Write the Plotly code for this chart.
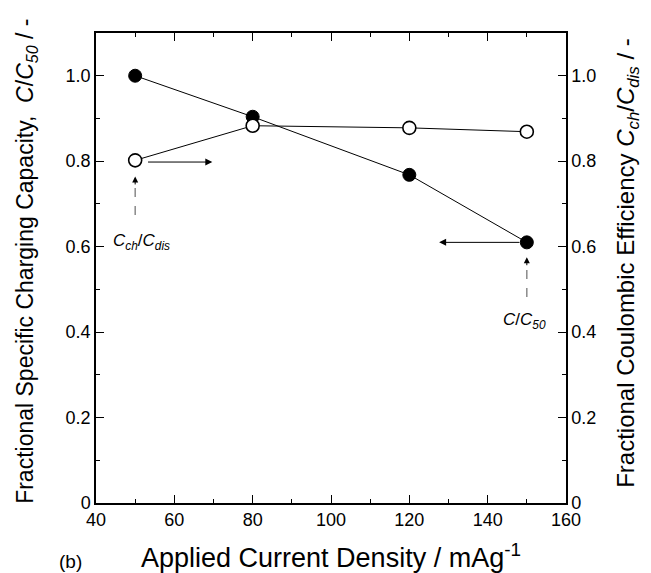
import plotly.graph_objects as go

current_density = [50, 80, 120, 150]
frac_capacity = [1.0, 0.904, 0.768, 0.610]
coulombic_eff = [0.802, 0.883, 0.878, 0.869]

x_ticks = [40, 60, 80, 100, 120, 140, 160]
y_ticks = [0, 0.2, 0.4, 0.6, 0.8, 1.0]
y_ticktext = ["0", "0.2", "0.4", "0.6", "0.8", "1.0"]

FONT = "Liberation Sans, Arial, Helvetica, sans-serif"

fig = go.Figure()

fig.add_trace(go.Scatter(
    x=current_density, y=frac_capacity, mode="lines+markers",
    line=dict(color="black", width=1),
    marker=dict(symbol="circle", size=13, color="black", line=dict(color="black", width=1)),
    yaxis="y", showlegend=False))

fig.add_trace(go.Scatter(
    x=current_density, y=coulombic_eff, mode="lines+markers",
    line=dict(color="black", width=1),
    marker=dict(symbol="circle", size=13, color="white", line=dict(color="black", width=1.6)),
    yaxis="y2", showlegend=False))

# dashed pointer lines (shapes)
dash_col = "#777777"
shapes = [
    dict(type="line", xref="x", yref="y", x0=current_density[0], x1=current_density[0],
         y0=coulombic_eff[0] - 0.128, y1=coulombic_eff[0] - 0.055,
         line=dict(color=dash_col, width=1.3, dash="dash")),
    dict(type="line", xref="x", yref="y", x0=current_density[-1], x1=current_density[-1],
         y0=frac_capacity[-1] - 0.128, y1=frac_capacity[-1] - 0.05,
         line=dict(color=dash_col, width=1.3, dash="dash")),
]

ann = []
# solid arrows pointing to the appropriate axis
ann.append(dict(x=69.7, y=coulombic_eff[0] - 0.004, ax=52.9, ay=coulombic_eff[0] - 0.004,
                xref="x", yref="y", axref="x", ayref="y", text="", showarrow=True,
                arrowhead=2, arrowsize=1.4, arrowwidth=1, arrowcolor="black"))
ann.append(dict(x=127.6, y=frac_capacity[-1], ax=148.5, ay=frac_capacity[-1],
                xref="x", yref="y", axref="x", ayref="y", text="", showarrow=True,
                arrowhead=2, arrowsize=1.4, arrowwidth=1, arrowcolor="black"))
# arrowheads of dashed pointers
ann.append(dict(x=current_density[0], y=coulombic_eff[0] - 0.038, ax=current_density[0],
                ay=coulombic_eff[0] - 0.06, xref="x", yref="y", axref="x", ayref="y",
                text="", showarrow=True, arrowhead=2, arrowsize=1.2, arrowwidth=1,
                arrowcolor="black"))
ann.append(dict(x=current_density[-1], y=frac_capacity[-1] - 0.035, ax=current_density[-1],
                ay=frac_capacity[-1] - 0.057, xref="x", yref="y", axref="x", ayref="y",
                text="", showarrow=True, arrowhead=2, arrowsize=1.2, arrowwidth=1,
                arrowcolor="black"))
# labels
ann.append(dict(x=51.5, y=0.612, xref="x", yref="y", showarrow=False,
                text="<i>C<sub>ch</sub></i>/<i>C<sub>dis</sub></i>",
                font=dict(family=FONT, size=17, color="black")))
ann.append(dict(x=149.5, y=0.425, xref="x", yref="y", showarrow=False,
                text="<i>C</i>/<i>C<sub>50</sub></i>",
                font=dict(family=FONT, size=17, color="black")))
# axis titles
ann.append(dict(x=-0.147, y=0.515, xref="paper", yref="paper", showarrow=False,
                textangle=-90, xanchor="center", yanchor="middle",
                text="Fractional Specific Charging Capacity,  <i>C</i>/<i>C<sub>50</sub></i> / -",
                font=dict(family=FONT, size=23, color="black")))
ann.append(dict(x=1.132, y=0.511, xref="paper", yref="paper", showarrow=False,
                textangle=-90, xanchor="center", yanchor="middle",
                text="Fractional Coulombic Efficiency <i>C<sub>ch</sub></i>/<i>C<sub>dis</sub></i> / -",
                font=dict(family=FONT, size=24, color="black")))
ann.append(dict(x=0.5, y=-0.112, xref="paper", yref="paper", showarrow=False,
                xanchor="center", yanchor="middle",
                text="Applied Current Density / mAg<sup>-1</sup>",
                font=dict(family=FONT, size=27, color="black")))
ann.append(dict(x=-0.055, y=-0.125, xref="paper", yref="paper", showarrow=False,
                xanchor="center", yanchor="middle", text="(b)",
                font=dict(family=FONT, size=19, color="black")))

axis_common = dict(showline=True, linecolor="black", linewidth=1.5, ticks="inside",
                   ticklen=8, tickwidth=1.3, tickcolor="black", showgrid=False, zeroline=False,
                   tickfont=dict(family=FONT, size=18, color="black"))

fig.update_layout(
    width=643, height=565,
    margin=dict(l=88, r=85, t=25, b=70),
    paper_bgcolor="white", plot_bgcolor="white",
    xaxis=dict(range=[40, 160], tickvals=x_ticks, ticktext=[str(v) for v in x_ticks],
               mirror="ticks",
               minor=dict(ticks="inside", ticklen=4.5, dtick=10, tickwidth=1.2,
                          tickcolor="black", showgrid=False),
               **axis_common),
    yaxis=dict(range=[0, 1.1], tickvals=y_ticks, ticktext=y_ticktext,
               minor=dict(ticks="inside", ticklen=4.5, dtick=0.1, tick0=0, tickwidth=1.2,
                          tickcolor="black", showgrid=False),
               **axis_common),
    yaxis2=dict(range=[0, 1.1], tickvals=y_ticks, ticktext=y_ticktext, overlaying="y",
                side="right",
                minor=dict(ticks="inside", ticklen=4.5, dtick=0.1, tick0=0, tickwidth=1.2,
                           tickcolor="black", showgrid=False),
                **axis_common),
    shapes=shapes,
    annotations=ann,
)

fig.write_html("out.html")
